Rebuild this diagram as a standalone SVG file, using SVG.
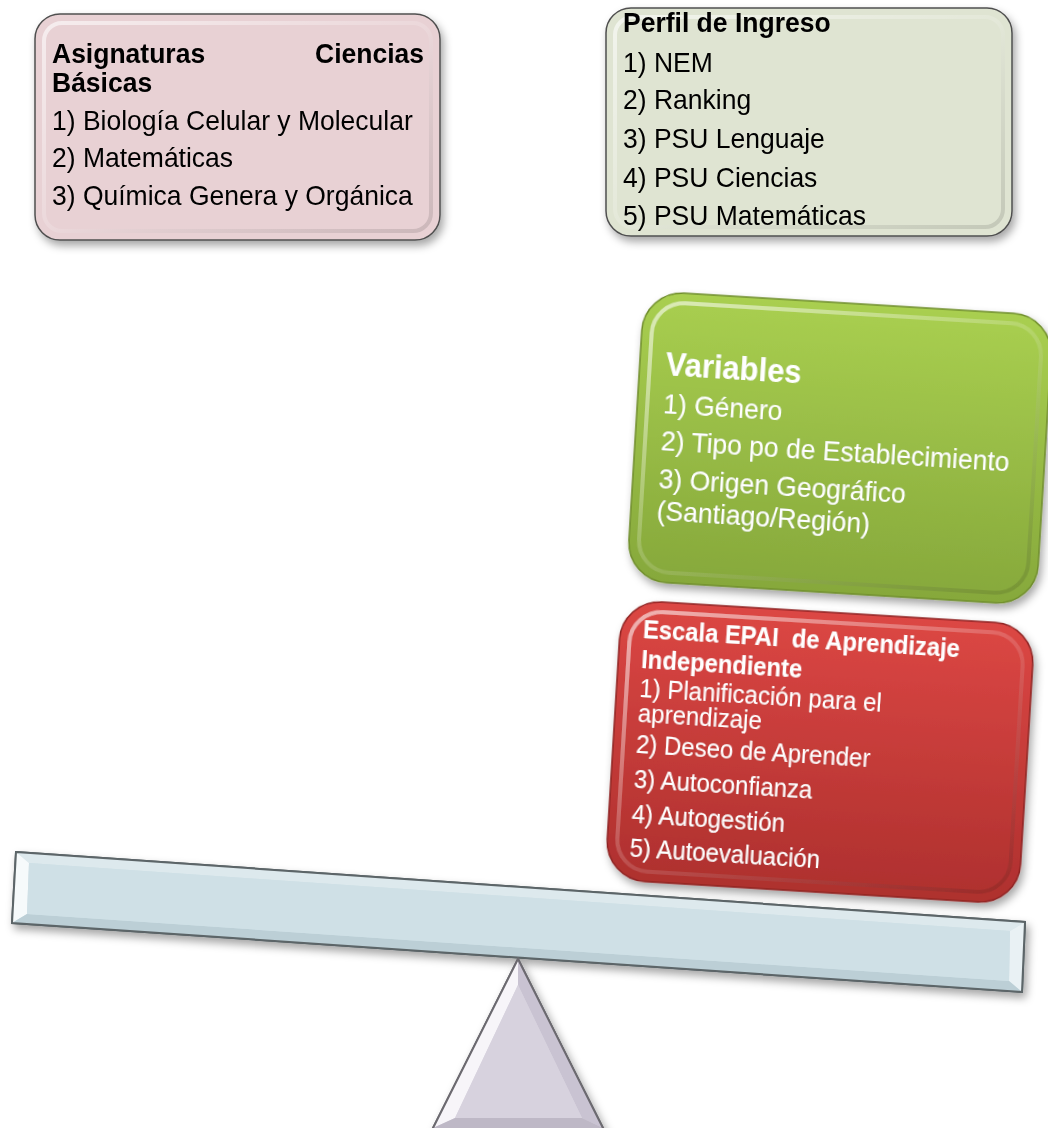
<svg xmlns="http://www.w3.org/2000/svg" width="1048" height="1128" viewBox="0 0 1048 1128">
<defs>
<filter id="sh" x="-10%" y="-10%" width="125%" height="130%">
<feDropShadow dx="3" dy="5" stdDeviation="4" flood-color="#000" flood-opacity="0.35"/>
</filter>
<linearGradient id="gGreen" x1="0" y1="0" x2="0" y2="1">
<stop offset="0" stop-color="#a9cf50"/>
<stop offset="1" stop-color="#86a83b"/>
</linearGradient>
<linearGradient id="gRed" x1="0" y1="0" x2="0" y2="1">
<stop offset="0" stop-color="#dc4744"/>
<stop offset="1" stop-color="#ae302e"/>
</linearGradient>
<linearGradient id="hl" x1="0" y1="0" x2="1" y2="1">
<stop offset="0" stop-color="#fff" stop-opacity="0.6"/>
<stop offset="0.5" stop-color="#fff" stop-opacity="0.15"/>
<stop offset="1" stop-color="#000" stop-opacity="0.12"/>
</linearGradient>
</defs>
<style>
.box{stroke:#4f4f4f;stroke-width:1.5}
.bev{fill:none;stroke:url(#hl);stroke-width:4}
.t{font-family:"Liberation Sans",Arial,sans-serif;font-size:26.5px;fill:#000;transform-box:fill-box;transform-origin:0 81%;transform:scale(1,1.07)}
.tb{font-weight:bold}
.w{fill:#fff}
.r{font-family:"Liberation Sans",Arial,sans-serif;font-size:24px;fill:#fff;transform-box:fill-box;transform-origin:0 81%;transform:scale(1,1.06)}
</style>

<g id="node-ciencias" filter="url(#sh)">
<rect class="box" x="35" y="14" width="405" height="226" rx="25" fill="#e8d1d4"/>
<rect class="bev" x="44" y="23" width="387" height="208" rx="18"/>
<text class="t tb" x="52" y="63">Asignaturas</text>
<text class="t tb" x="424" y="63" text-anchor="end">Ciencias</text>
<text class="t tb" x="52" y="92">Básicas</text>
<text class="t" x="52" y="130">1) Biología Celular y Molecular</text>
<text class="t" x="52" y="167">2) Matemáticas</text>
<text class="t" x="52" y="205">3) Química Genera y Orgánica</text>
</g>

<g id="node-perfil" filter="url(#sh)">
<rect class="box" x="606" y="8" width="406" height="228" rx="25" fill="#dfe4d2"/>
<rect class="bev" x="615" y="17" width="388" height="210" rx="18"/>
<text class="t tb" x="623" y="32">Perfil de Ingreso</text>
<text class="t" x="623" y="72">1) NEM</text>
<text class="t" x="623" y="109">2) Ranking</text>
<text class="t" x="623" y="148">3) PSU Lenguaje</text>
<text class="t" x="623" y="187">4) PSU Ciencias</text>
<text class="t" x="623" y="225">5) PSU Matemáticas</text>
</g>

<g id="node-variables" transform="rotate(3.5 840 448)" filter="url(#sh)">
<rect x="635" y="303" width="410" height="290" rx="40" fill="url(#gGreen)" stroke="#6f8d2c" stroke-width="1.5"/>
<rect class="bev" x="645" y="313" width="390" height="270" rx="32"/>
<text class="t tb w" x="661" y="386" style="font-size:31px">Variables</text>
<text class="t w" x="661" y="424">1) Género</text>
<text class="t w" x="661" y="461">2) Tipo po de Establecimiento</text>
<text class="t w" x="661" y="499">3) Origen Geográfico</text>
<text class="t w" x="661" y="531">(Santiago/Región)</text>
</g>

<g id="node-epai" transform="rotate(3.5 820 752)" filter="url(#sh)">
<rect x="613" y="612" width="414" height="280" rx="40" fill="url(#gRed)" stroke="#8e2422" stroke-width="1.5"/>
<rect class="bev" x="623" y="622" width="394" height="260" rx="32"/>
<text class="r" x="636" y="649" style="font-weight:bold;font-size:23.8px" xml:space="preserve">Escala EPAI  de Aprendizaje</text>
<text class="r" x="636" y="679" style="font-weight:bold;font-size:23.8px">Independiente</text>
<text class="r" x="636" y="708">1) Planificación para el</text>
<text class="r" x="636" y="733">aprendizaje</text>
<text class="r" x="636" y="764">2) Deseo de Aprender</text>
<text class="r" x="636" y="799">3) Autoconfianza</text>
<text class="r" x="636" y="834">4) Autogestión</text>
<text class="r" x="636" y="868">5) Autoevaluación</text>
</g>

<g id="node-plank" filter="url(#sh)">
<polygon points="16,852 1025,922 1022,992 12,923" fill="#cfe0e6" stroke="#5c6568" stroke-width="2"/>
<polygon points="16,852 1025,922 1010,931 29,863" fill="#dde9ed"/>
<polygon points="16,852 29,863 27,914 12,923" fill="#f6fafb"/>
<polygon points="1025,922 1022,992 1009,981 1010,931" fill="#e9f1f4"/>
<polygon points="12,923 27,914 1009,981 1022,992" fill="#bccfd6"/>
<polygon points="29,863 1010,931 1009,981 27,914" fill="#cfe0e6"/>
<polygon points="16,852 1025,922 1022,992 12,923" fill="none" stroke="#5c6568" stroke-width="2"/>
</g>

<g id="node-fulcrum" filter="url(#sh)">
<polygon points="518,959 606,1134 430,1134" fill="#d7d2de" stroke="#6c6a70" stroke-width="2"/>
<polygon points="518,959 518,985 455,1118 433,1128" fill="#f7f5f9"/>
<polygon points="518,959 603,1128 582,1118 518,985" fill="#c9c3d2"/>
<polygon points="433,1128 455,1118 582,1118 603,1128" fill="#beb8c6"/>
<polygon points="518,985 582,1118 455,1118" fill="#d7d2de"/>
<polygon points="518,959 606,1134 430,1134" fill="none" stroke="#6c6a70" stroke-width="2"/>
</g>

<g id="connectors"></g>
</svg>
